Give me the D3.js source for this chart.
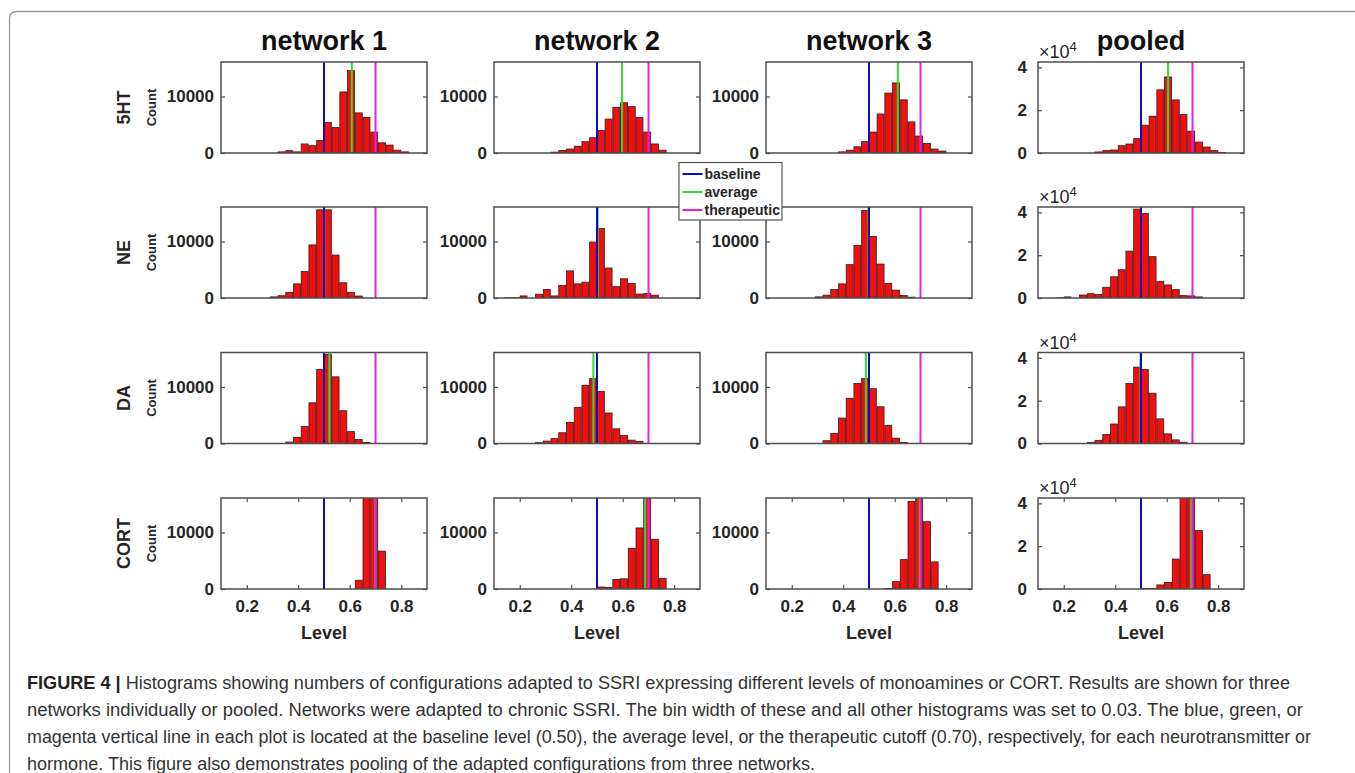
<!DOCTYPE html>
<html>
<head>
<meta charset="utf-8">
<script src="https://cdn.jsdelivr.net/npm/d3@7"></script>
<style>
  body { margin: 0; background: #fff; }
  svg { display: block; }
</style>
</head>
<body>
<svg id="fig" width="1355" height="773"></svg>
<script>
// ---- data -------------------------------------------------------------
// left edge of each histogram bin (bin width 0.03)
const binLeft = [0.14, 0.17, 0.20, 0.23, 0.26, 0.29, 0.32, 0.35, 0.38, 0.41, 0.44, 0.47,
                 0.50, 0.53, 0.56, 0.59, 0.62, 0.65, 0.68, 0.71, 0.74, 0.77, 0.80];
const binWidth = 0.03;

const columnTitles = ["network 1", "network 2", "network 3", "pooled"];
const rowLabels = ["5HT", "NE", "DA", "CORT"];

// counts per bin, one array per network / pooled
const ht5Net1   = [0, 0, 0, 0, 0, 0, 200, 400, 200, 1600, 1300, 2200, 5400, 4500, 10800, 14600, 7100, 6300, 3700, 1800, 1400, 500, 200];
const ht5Net2   = [0, 0, 0, 0, 0, 0, 150, 450, 700, 1200, 2000, 2700, 4000, 6000, 8100, 8900, 8200, 6300, 3700, 1600, 500, 0, 0];
const ht5Net3   = [0, 0, 0, 0, 0, 0, 0, 0, 200, 500, 1100, 2000, 3700, 6900, 10600, 12400, 9400, 5500, 3000, 1700, 700, 350, 0];
const ht5Pooled = [0, 0, 0, 0, 0, 0, 500, 1100, 1400, 3400, 4200, 6700, 13000, 17200, 29500, 35500, 24800, 18000, 10200, 5100, 2800, 1100, 200];

const neNet1    = [0, 0, 0, 0, 0, 200, 400, 1000, 2500, 4700, 9400, 15600, 15600, 7600, 2700, 1000, 350, 0, 0, 0, 0, 0, 0];
const neNet2    = [50, 50, 370, 0, 670, 1500, 370, 2200, 4800, 2500, 2800, 9900, 12300, 5300, 2000, 3400, 2600, 700, 800, 500, 0, 0, 0];
const neNet3    = [0, 0, 0, 0, 0, 200, 500, 1500, 2500, 5900, 9300, 15500, 10900, 6000, 2600, 1400, 450, 150, 0, 0, 0, 0, 0];
const nePooled  = [0, 100, 500, 0, 1400, 2000, 1700, 5000, 9900, 13200, 21900, 41500, 39500, 19300, 7700, 6100, 3900, 1100, 1000, 500, 0, 0, 0];

const daNet1    = [0, 0, 0, 0, 0, 0, 0, 250, 1100, 3000, 7200, 13100, 15800, 11800, 5800, 2100, 700, 200, 0, 0, 0, 0, 0];
const daNet2    = [0, 0, 0, 0, 150, 430, 860, 1900, 3700, 6400, 10300, 11500, 9200, 5400, 2600, 1400, 600, 350, 0, 0, 0, 0, 0];
const daNet3    = [0, 0, 0, 0, 0, 0, 500, 1800, 4500, 8000, 10600, 11500, 9700, 6500, 3200, 950, 200, 0, 0, 0, 0, 0, 0];
const daPooled  = [0, 0, 0, 0, 0, 500, 1500, 4200, 9100, 17100, 28000, 35700, 34600, 23500, 11500, 4500, 1700, 600, 0, 0, 0, 0, 0];

const cortNet1   = [0, 0, 0, 0, 0, 0, 0, 0, 0, 0, 0, 0, 0, 0, 0, 0, 1550, 25000, 29000, 6700, 0, 0, 0];
const cortNet2   = [0, 0, 0, 0, 0, 0, 0, 0, 0, 0, 0, 0, 350, 300, 1700, 1800, 7200, 10800, 21700, 8800, 1900, 0, 0];
const cortNet3   = [0, 0, 0, 0, 0, 0, 0, 0, 0, 0, 0, 0, 0, 0, 100, 1300, 5200, 15500, 19300, 11900, 4800, 0, 0];
const cortPooled = [0, 0, 0, 0, 0, 0, 0, 0, 0, 0, 0, 0, 300, 300, 1900, 3100, 14000, 51000, 70000, 27300, 6700, 0, 0];

// average level per panel (network 1, 2, 3, pooled)
const avg5HT  = [0.608, 0.597, 0.612, 0.605];
const avgNE   = [0.501, 0.503, 0.498, 0.500];
const avgDA   = [0.521, 0.486, 0.488, 0.498];
const avgCORT = [0.699, 0.687, 0.697, 0.695];

const baselineLevel = 0.50;
const therapeuticLevel = 0.70;

const xDomain = [0.1, 0.9];
const xTicks = [0.2, 0.4, 0.6, 0.8];
const networkYMax = 16100;
const pooledYMax = 42500;
const networkYTicks = [0, 10000];
const pooledYTicks = [0, 20000, 40000];

const legendLabels = ["baseline", "average", "therapeutic"];

const rows = [
  { counts: [ht5Net1, ht5Net2, ht5Net3, ht5Pooled], avg: avg5HT },
  { counts: [neNet1, neNet2, neNet3, nePooled], avg: avgNE },
  { counts: [daNet1, daNet2, daNet3, daPooled], avg: avgDA },
  { counts: [cortNet1, cortNet2, cortNet3, cortPooled], avg: avgCORT }
];

// ---- layout -------------------------------------------------------------
const FONT = '"Liberation Sans", Arial, Helvetica, sans-serif';
const colLeft = [221, 494, 766, 1038];
const rowTop = [62, 207, 352.5, 498];
const W = 206, H = 91;
const C_BASE = "#0d0db8", C_AVG = "#2ee02e", C_THER = "#e61ee6";
const TXT = "#262626";

const svg = d3.select("#fig");

// frame rule along top and left edge
svg.append("path")
  .attr("d", "M9.5,773 L9.5,19 Q9.5,11.5 17,11.5 L1355,11.5")
  .attr("fill", "none").attr("stroke", "#9a9a9a").attr("stroke-width", 1.3);

const x = d3.scaleLinear().domain(xDomain).range([0, W]);

function styleAxis(sel) {
  sel.select(".domain").remove();
  sel.selectAll(".tick line").attr("stroke", "#4d4d4d").attr("stroke-width", 1.2);
  sel.selectAll(".tick text")
    .attr("fill", TXT).attr("font-family", FONT)
    .attr("font-weight", "bold").attr("font-size", 17);
}

rows.forEach((row, r) => {
  row.counts.forEach((counts, c) => {
    const pooled = c === 3;
    const y = d3.scaleLinear().domain([0, pooled ? pooledYMax : networkYMax]).range([H, 0]);
    const g = svg.append("g").attr("transform", `translate(${colLeft[c]},${rowTop[r]})`);

    const clipId = `clip-${r}-${c}`;
    g.append("clipPath").attr("id", clipId)
      .append("rect").attr("width", W).attr("height", H);
    const plot = g.append("g").attr("clip-path", `url(#${clipId})`);

    // histogram bars
    const bins = binLeft.map((b, i) => ({ b, n: counts[i] })).filter(d => d.n > 0);
    plot.selectAll("rect.bar").data(bins).join("rect")
      .attr("class", "bar")
      .attr("x", d => x(d.b + binWidth * 0.05))
      .attr("width", x(binWidth * 0.9) - x(0))
      .attr("y", d => y(d.n))
      .attr("height", d => H - y(d.n))
      .attr("fill", "#f01010")
      .attr("stroke", "#3a1a1a")
      .attr("stroke-width", 0.8);

    // reference lines
    [[row.avg[c], C_AVG], [baselineLevel, C_BASE], [therapeuticLevel, C_THER]].forEach(([v, col]) => {
      plot.append("line")
        .attr("x1", x(v)).attr("x2", x(v))
        .attr("y1", 0).attr("y2", H)
        .attr("stroke", col).attr("stroke-width", 2);
    });

    // y axis (ticks point inward)
    const yLeft = d3.axisLeft(y)
      .tickValues(pooled ? pooledYTicks : networkYTicks)
      .tickSize(-4)
      .tickPadding(pooled ? 11 : 7)
      .tickFormat(pooled ? (d => d / 10000) : d3.format("d"));
    g.append("g").call(yLeft).call(styleAxis);
    g.append("g").attr("transform", `translate(${W},0)`)
      .call(d3.axisRight(y).tickValues(pooled ? pooledYTicks : networkYTicks).tickSize(-4).tickFormat(""))
      .call(styleAxis);

    if (r === rows.length - 1) {
      g.append("g").attr("transform", `translate(0,${H})`)
        .call(d3.axisBottom(x).tickValues(xTicks).tickSize(-4).tickPadding(11).tickFormat(d3.format(".1f")))
        .call(styleAxis);
      g.append("g")
        .call(d3.axisTop(x).tickValues(xTicks).tickSize(-4).tickFormat(""))
        .call(styleAxis);
      g.append("text")
        .attr("x", W / 2).attr("y", H + 50)
        .attr("text-anchor", "middle")
        .attr("font-family", FONT).attr("font-weight", "bold").attr("font-size", 18)
        .attr("fill", TXT).text("Level");
    }

    // axes box
    g.append("rect").attr("width", W).attr("height", H)
      .attr("fill", "none").attr("stroke", "#4d4d4d").attr("stroke-width", 1.5);

    if (pooled) {
      const ex = g.append("text").attr("x", 1).attr("y", -4)
        .attr("font-family", FONT).attr("font-size", 18).attr("fill", TXT);
      ex.append("tspan").text("\u00d710");
      ex.append("tspan").attr("dy", -7).attr("font-size", 13).text("4");
    }

    if (c === 0) {
      g.append("text")
        .attr("transform", `translate(-97,${H / 2}) rotate(-90)`)
        .attr("text-anchor", "middle").attr("dy", "0.35em")
        .attr("font-family", FONT).attr("font-weight", "bold").attr("font-size", 18)
        .attr("fill", TXT).text(rowLabels[r]);
      g.append("text")
        .attr("transform", `translate(-70,${H / 2}) rotate(-90)`)
        .attr("text-anchor", "middle").attr("dy", "0.35em")
        .attr("font-family", FONT).attr("font-weight", "bold").attr("font-size", 13)
        .attr("fill", TXT).text("Count");
    }

    if (r === 0) {
      g.append("text")
        .attr("x", W / 2).attr("y", -12)
        .attr("text-anchor", "middle")
        .attr("font-family", FONT).attr("font-weight", "bold").attr("font-size", 27)
        .attr("fill", "#111").text(columnTitles[c]);
    }
  });
});

// legend
const lg = svg.append("g").attr("transform", "translate(679,162.5)");
lg.append("rect").attr("width", 103).attr("height", 57.5)
  .attr("fill", "#fff").attr("stroke", "#555").attr("stroke-width", 1.2);
[C_BASE, C_AVG, C_THER].forEach((col, i) => {
  const yy = 11.5 + i * 18;
  lg.append("line").attr("x1", 3.5).attr("x2", 23.5).attr("y1", yy).attr("y2", yy)
    .attr("stroke", col).attr("stroke-width", 2);
  lg.append("text").attr("x", 25.5).attr("y", yy).attr("dy", "0.35em")
    .attr("font-family", FONT).attr("font-weight", "bold").attr("font-size", 14)
    .attr("fill", TXT).text(legendLabels[i]);
});

// figure caption
const CAP_FONT = '"Liberation Sans Narrow", "Arial Narrow", "Liberation Sans", Arial, sans-serif';
const captionLines = [
  { bold: "FIGURE 4 |", text: " Histograms showing numbers of configurations adapted to SSRI expressing different levels of monoamines or CORT. Results are shown for three", len: 1263 },
  { bold: "", text: "networks individually or pooled. Networks were adapted to chronic SSRI. The bin width of these and all other histograms was set to 0.03. The blue, green, or", len: 1276 },
  { bold: "", text: "magenta vertical line in each plot is located at the baseline level (0.50), the average level, or the therapeutic cutoff (0.70), respectively, for each neurotransmitter or", len: 1284 },
  { bold: "", text: "hormone. This figure also demonstrates pooling of the adapted configurations from three networks.", len: 788 }
];
captionLines.forEach((ln, i) => {
  const t = svg.append("text")
    .attr("x", 27).attr("y", 689 + i * 27)
    .attr("font-family", CAP_FONT).attr("font-size", 17.5).attr("fill", "#333")
    .attr("textLength", ln.len).attr("lengthAdjust", "spacingAndGlyphs");
  if (ln.bold) t.append("tspan").attr("font-weight", "bold").attr("fill", "#222").text(ln.bold);
  t.append("tspan").text(ln.text);
});
</script>
</body>
</html>
